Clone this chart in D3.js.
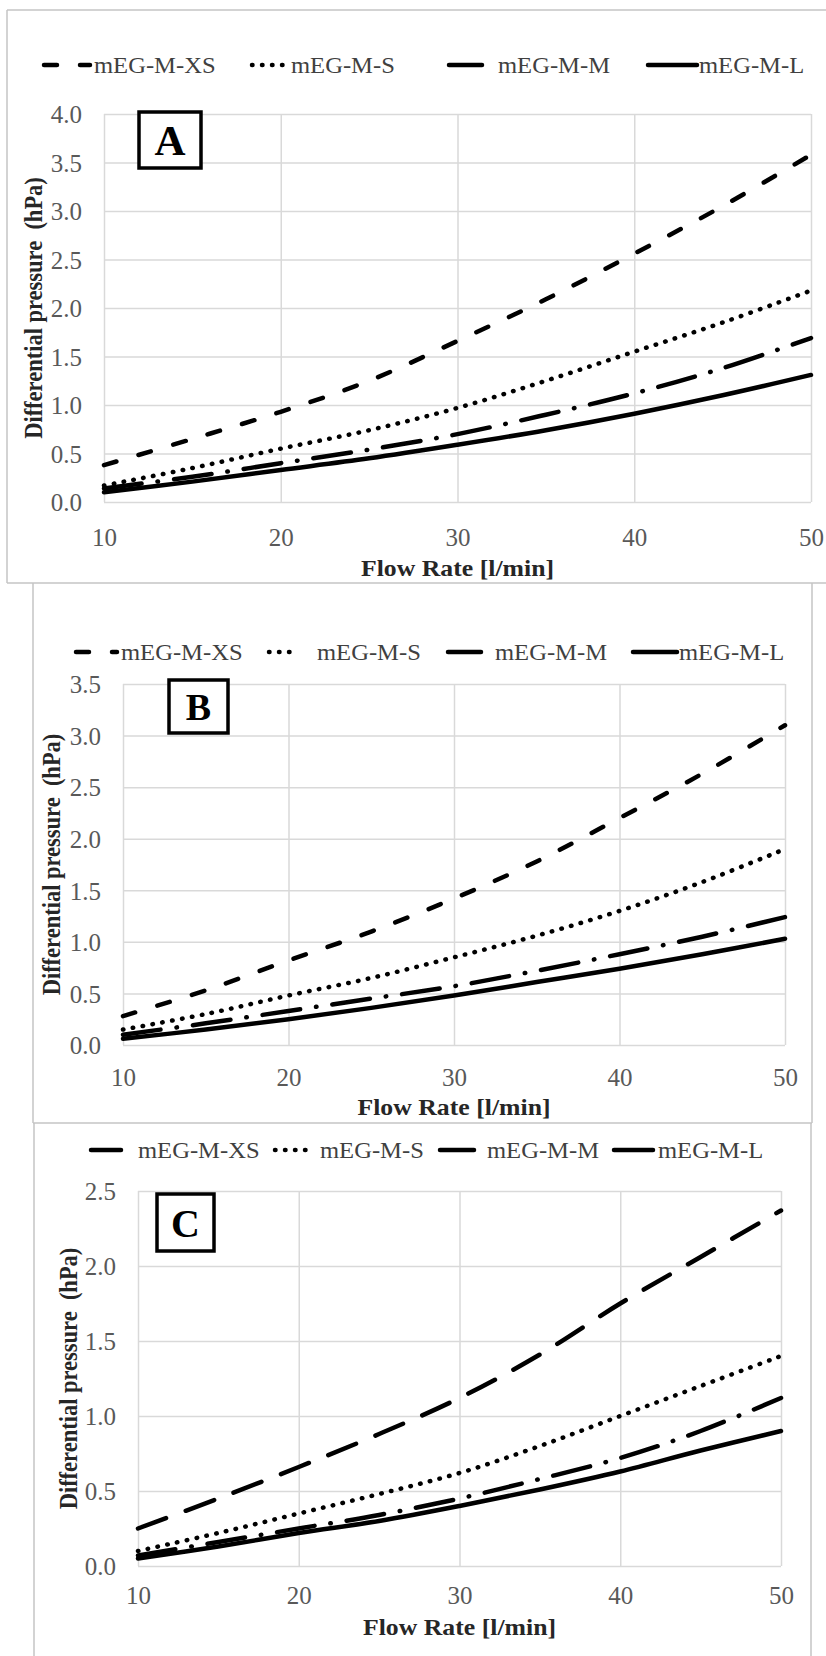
<!DOCTYPE html>
<html><head><meta charset="utf-8">
<script src="https://cdn.jsdelivr.net/npm/d3@7"></script>
<style>body{margin:0;background:#fff}svg{display:block}text{font-family:'Liberation Serif','Times New Roman',serif}</style>
</head><body>
<svg id="c" width="826" height="1656"></svg>
<script>
// ---------- data ----------
const flowRates = [10, 15, 20, 25, 30, 35, 40, 45, 50];
const seriesNames = ["mEG-M-XS", "mEG-M-S", "mEG-M-M", "mEG-M-L"];
const xTickValues = [10, 20, 30, 40, 50];
const yTicksA = [0, 0.5, 1.0, 1.5, 2.0, 2.5, 3.0, 3.5, 4.0];
const yTicksB = [0, 0.5, 1.0, 1.5, 2.0, 2.5, 3.0, 3.5];
const yTicksC = [0, 0.5, 1.0, 1.5, 2.0, 2.5];

// Panel A
const aXS = [0.38, 0.65, 0.93, 1.25, 1.66, 2.09, 2.56, 3.05, 3.58];
const aS  = [0.17, 0.35, 0.55, 0.74, 0.97, 1.25, 1.55, 1.85, 2.18];
const aM  = [0.14, 0.26, 0.40, 0.54, 0.70, 0.90, 1.12, 1.38, 1.69];
const aL  = [0.10, 0.21, 0.33, 0.45, 0.59, 0.74, 0.91, 1.10, 1.31];
// Panel B
const bXS = [0.28, 0.53, 0.82, 1.10, 1.42, 1.78, 2.20, 2.63, 3.10];
const bS  = [0.15, 0.30, 0.48, 0.65, 0.85, 1.06, 1.30, 1.58, 1.90];
const bM  = [0.10, 0.21, 0.33, 0.45, 0.57, 0.72, 0.88, 1.05, 1.24];
const bL  = [0.06, 0.15, 0.25, 0.36, 0.48, 0.61, 0.74, 0.88, 1.03];
// Panel C
const cXS = [0.25, 0.45, 0.66, 0.88, 1.12, 1.41, 1.75, 2.06, 2.37];
const cS  = [0.10, 0.22, 0.35, 0.48, 0.62, 0.80, 1.00, 1.20, 1.40];
const cM  = [0.07, 0.16, 0.25, 0.34, 0.45, 0.58, 0.72, 0.90, 1.12];
const cL  = [0.05, 0.13, 0.22, 0.30, 0.40, 0.51, 0.63, 0.77, 0.90];

// ---------- styles / layout ----------
const DASH = {dash: "13,23", longdash: "30,21", dot: "0.5,9.5", dashdot: "38,16,0.5,16", solid: null};
const FONT = "'Liberation Serif','Times New Roman',serif";
const svg = d3.select("#c");

const frameColor = "#c4c4c4";
function seg(x1, y1, x2, y2) {
  svg.append("line").attr("x1", x1).attr("y1", y1).attr("x2", x2).attr("y2", y2)
    .attr("stroke", frameColor).attr("stroke-width", 1.5);
}
seg(7, 10, 830, 10); seg(7, 10, 7, 583); seg(7, 583, 830, 583);
seg(33, 583, 33, 1123); seg(812, 583, 812, 1123); seg(33, 1123, 812, 1123);
seg(34, 1123, 34, 1660); seg(811, 1123, 811, 1660);

const panels = [
  {letter: "A", series: [aXS, aS, aM, aL], styles: ["dash", "dot", "dashdot", "solid"],
   x0: 104, x1: 811, yTop: 114, yBot: 502, ymax: 4.0, yTicks: yTicksA,
   box: [139, 112, 62, 56], letterSize: 43,
   ytLabelX: 82, yTitleX: 33, xLabelDy: 35, xTitleY: 568,
   legendY: 65, legend: [[44, 90, 94], [252, 290, 291], [449, 482, 498], [648, 697, 699]]},
  {letter: "B", series: [bXS, bS, bM, bL], styles: ["dash", "dot", "dashdot", "solid"],
   x0: 123, x1: 785, yTop: 684, yBot: 1045, ymax: 3.5, yTicks: yTicksB,
   box: [169, 680, 59, 53], letterSize: 38,
   ytLabelX: 101, yTitleX: 51, xLabelDy: 32, xTitleY: 1107,
   legendY: 652, legend: [[76, 117, 121], [269, 299, 317], [448, 481, 495], [633, 677, 679]]},
  {letter: "C", series: [cXS, cS, cM, cL], styles: ["longdash", "dot", "dashdot", "solid"],
   x0: 138, x1: 781, yTop: 1191, yBot: 1566, ymax: 2.5, yTicks: yTicksC,
   box: [157, 1194, 57, 57], letterSize: 40,
   ytLabelX: 116, yTitleX: 68, xLabelDy: 29, xTitleY: 1627,
   legendY: 1150, legend: [[91, 124, 138], [275, 314, 320], [440, 474, 487], [614, 653, 658]]}
];

panels.forEach(p => {
  const x = d3.scaleLinear().domain([10, 50]).range([p.x0, p.x1]);
  const y = d3.scaleLinear().domain([0, p.ymax]).range([p.yBot, p.yTop]);
  const g = svg.append("g");

  const gx = g.append("g").attr("transform", `translate(0,${p.yBot})`)
    .call(d3.axisBottom(x).tickValues(xTickValues).tickSize(-(p.yBot - p.yTop)).tickFormat(d => d));
  gx.select(".domain").remove();
  gx.attr("font-family", null).attr("font-size", null);
  gx.selectAll(".tick line").attr("stroke", "#d9d9d9").attr("stroke-width", 1.5);
  gx.selectAll(".tick text").attr("y", p.xLabelDy).attr("dy", "0.35em")
    .style("font-family", FONT).style("font-size", "25px").style("fill", "#595959");

  const gy = g.append("g").attr("transform", `translate(${p.x0},0)`)
    .call(d3.axisLeft(y).tickValues(p.yTicks).tickSize(-(p.x1 - p.x0)).tickFormat(d3.format(".1f")));
  gy.select(".domain").remove();
  gy.attr("font-family", null).attr("font-size", null);
  gy.selectAll(".tick line").attr("stroke", "#d9d9d9").attr("stroke-width", 1.5);
  gy.selectAll(".tick text").attr("x", -(p.x0 - p.ytLabelX)).attr("dy", "0.35em")
    .style("font-family", FONT).style("font-size", "25px").style("fill", "#595959");

  const line = d3.line().x((d, i) => x(flowRates[i])).y(d => y(d)).curve(d3.curveCatmullRom.alpha(0.5));
  p.series.forEach((s, k) => {
    g.append("path").datum(s).attr("d", line).attr("fill", "none")
      .attr("stroke", "#000").attr("stroke-width", 4.5)
      .attr("stroke-linecap", "round").attr("stroke-linejoin", "round")
      .attr("stroke-dasharray", DASH[p.styles[k]]);
  });

  g.append("rect").attr("x", p.box[0]).attr("y", p.box[1]).attr("width", p.box[2]).attr("height", p.box[3])
    .attr("fill", "#fff").attr("stroke", "#000").attr("stroke-width", 3.5);
  g.append("text").attr("x", p.box[0] + p.box[2] / 2).attr("y", p.box[1] + p.box[3] / 2)
    .attr("dy", "0.35em").attr("text-anchor", "middle")
    .style("font-family", FONT).style("font-weight", "bold").style("font-size", p.letterSize + "px")
    .style("fill", "#000").text(p.letter);

  g.append("text").attr("transform", `translate(${(p.x0 + p.x1) / 2},${p.xTitleY}) scale(1.12,1)`)
    .attr("dy", "0.35em").attr("text-anchor", "middle").style("font-family", FONT).style("font-weight", "bold")
    .style("font-size", "23px").style("fill", "#262626").text("Flow Rate [l/min]");
  g.append("text").attr("transform", `translate(${p.yTitleX},${(p.yTop + p.yBot) / 2}) rotate(-90) scale(1,1.1)`)
    .attr("dy", "0.35em").attr("text-anchor", "middle").style("font-family", FONT)
    .style("font-weight", "bold").style("font-size", "22.5px").style("fill", "#262626")
    .style("white-space", "pre").text("Differential pressure  (hPa)");

  p.legend.forEach((l, k) => {
    g.append("line").attr("x1", l[0]).attr("x2", l[1]).attr("y1", p.legendY).attr("y2", p.legendY)
      .attr("stroke", "#000").attr("stroke-width", 4.5).attr("stroke-linecap", "round")
      .attr("stroke-dasharray", DASH[p.styles[k]]);
    g.append("text").attr("transform", `translate(${l[2]},${p.legendY}) scale(1.07,1)`)
      .attr("dy", "0.35em")
      .style("font-family", FONT).style("font-size", "23px").style("fill", "#404040").text(seriesNames[k]);
  });
});
</script>
</body></html>
